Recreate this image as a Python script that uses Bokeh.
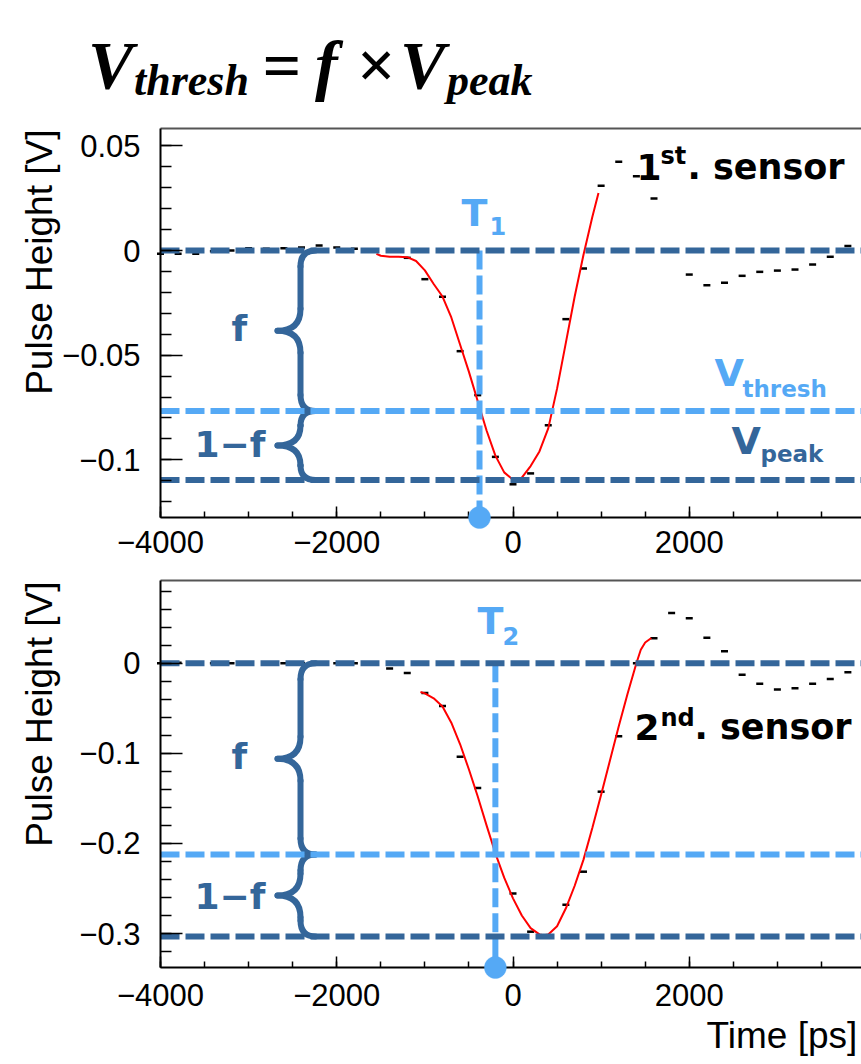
import math
from bokeh.plotting import figure
from bokeh.layouts import column
from bokeh.models import (Range1d, Label, FixedTicker, CustomJSTickFormatter,
                          PolyAnnotation, Div)
from bokeh.embed import file_html
from bokeh.resources import INLINE

# ---------------- data ----------------
s1_time = [-4000, -3800, -3600, -3400, -3200, -3000, -2800, -2600, -2400, -2200, -2000,
           -1800, -1600, -1400, -1200, -1000, -800, -600, -400, -200, 0, 200, 400, 600,
           800, 1000, 1200, 1400, 1600, 1800, 2000, 2200, 2400, 2600, 2800, 3000, 3200,
           3400, 3600, 3800]
s1_volt = [-0.0016, -0.0015, -0.0016, -0.0003, 0.0, 0.0011, 0.0008, 0.0011, 0.0014, 0.0024,
           0.0014, 0.0008, 0.0, -0.0006, -0.0035, -0.0137, -0.0221, -0.0481, -0.0691,
           -0.0986, -0.1117, -0.1065, -0.0835, -0.0328, -0.0086, 0.0309, 0.0424, 0.0355,
           0.0248, 0.0, -0.0115, -0.0166, -0.0154, -0.0121, -0.0102, -0.0096, -0.0091,
           -0.0067, -0.0030, 0.0022]
fit1_time = [-1550, -1500, -1400, -1300, -1200, -1100, -1000, -900, -800, -700, -600, -500,
             -400, -300, -200, -100, 0, 50, 100, 200, 300, 400, 500, 600, 700, 800, 900, 970]
fit1_volt = [-0.0016, -0.0025, -0.0030, -0.0030, -0.0032, -0.0050, -0.0095, -0.0160, -0.0220,
             -0.0320, -0.0450, -0.0580, -0.0720, -0.0860, -0.0980, -0.1060, -0.1095, -0.1097,
             -0.1085, -0.1030, -0.0960, -0.0850, -0.0660, -0.0440, -0.0220, -0.0020, 0.0160,
             0.0275]

s2_time = [-4000, -3800, -3600, -3400, -3200, -3000, -2800, -2600, -2400, -2200, -2000,
           -1800, -1600, -1400, -1200, -1000, -800, -600, -400, -200, 0, 200, 400, 600,
           800, 1000, 1200, 1400, 1600, 1800, 2000, 2200, 2400, 2600, 2800, 3000, 3200,
           3400, 3600, 3800]
s2_volt = [0.0, 0.0005, 0.0, 0.0, 0.0, 0.0005, 0.0, 0.0, 0.0, 0.0, 0.0, 0.0, -0.001, -0.0058,
           -0.011, -0.033, -0.0476, -0.1037, -0.1385, -0.212, -0.2556, -0.298, -0.303,
           -0.2681, -0.2314, -0.1426, -0.081, 0.0, 0.0278, 0.0556, 0.050, 0.0282, 0.0133,
           -0.0129, -0.0229, -0.0292, -0.0278, -0.0229, -0.0174, -0.010]
fit2_time = [-1050, -1000, -900, -800, -700, -600, -500, -400, -300, -200, -100, 0, 100, 200,
             300, 350, 400, 500, 600, 700, 800, 900, 1000, 1100, 1200, 1300, 1400, 1450, 1500,
             1570]
fit2_volt = [-0.032, -0.0335, -0.039, -0.048, -0.066, -0.090, -0.118, -0.148, -0.180, -0.211,
             -0.238, -0.261, -0.280, -0.294, -0.301, -0.302, -0.301, -0.292, -0.272, -0.247,
             -0.218, -0.183, -0.146, -0.108, -0.070, -0.034, 0.000, 0.015, 0.023, 0.028]

frac = 0.7
baseline1 = 0.0
vpeak1 = -0.1096
baseline2 = 0.0
vpeak2 = -0.3033
t_cross1 = -380
t_cross2 = -200

x_major = [-4000, -2000, 0, 2000, 4000]
x_minor = [-4000 + 500 * k for k in range(17)]
y1_major = [-0.1, -0.05, 0.0, 0.05]
y1_minor = [round(-0.12 + 0.01 * k, 2) for k in range(18)]
y2_major = [-0.3, -0.2, -0.1, 0.0]
y2_minor = [round(-0.32 + 0.02 * k, 2) for k in range(21)]

# ---------------- style / geometry ----------------
DARK = "#34669A"
LIGHT = "#55A9F5"
SANS = "Liberation Sans"
BOLD = "DejaVu Sans"
W = 861
XS = 0.088125          # px per ps
X_ZERO_PX = 512.5      # page x of t = 0
X_LEFT = -4000         # first x tick (y axis position)
BASE_FIX = 0.38        # empirical baseline correction (em)


class Geo:
    """page-pixel <-> data conversion for a panel whose frame fills the figure"""

    def __init__(self, page_top, height, zero_py, yscale):
        self.top, self.h, self.zero, self.ys = page_top, height, zero_py, yscale

    def x(self, px):
        return (px - X_ZERO_PX) / XS

    def y(self, py):
        return (self.zero - py) / self.ys

    def px(self, v):
        return X_ZERO_PX + v * XS

    def py(self, v):
        return self.zero - v * self.ys

    def xr(self):
        return Range1d(self.x(0), self.x(W))

    def yr(self):
        return Range1d(self.y(self.top + self.h), self.y(self.top))


fmt = CustomJSTickFormatter(code="return tick < 0 ? '\u2212' + Math.abs(tick) : '' + tick;")


def lab(p, geo, text, px, py, size, color="black", font=BOLD, style="bold",
        align="left", baseline="alphabetic", angle=0.0):
    if baseline == "alphabetic":
        py = py - BASE_FIX * size
    p.add_layout(Label(x=geo.x(px), y=geo.y(py), text=text, text_font=font,
                       text_font_style=style, text_font_size=f"{size}px", text_color=color,
                       text_align=align, text_baseline=baseline, angle=angle))


def make_panel(geo, frame_top_py, axis_py, ymaj, ymin, xstand):
    v_axis = geo.y(axis_py)
    v_top = geo.y(frame_top_py)
    x_end = geo.x(W)
    p = figure(width=W, height=geo.h, x_range=geo.xr(), y_range=geo.yr(),
               output_backend="svg", toolbar_location=None,
               min_border=0, min_border_left=0, min_border_right=0, min_border_top=0,
               min_border_bottom=0)
    p.outline_line_color = None
    p.grid.visible = False
    p.background_fill_color = "white"
    p.border_fill_color = "white"
    for ax in (p.xaxis[0], p.yaxis[0]):
        ax.axis_line_color = "black"
        ax.axis_line_width = 2
        ax.major_tick_line_color = "black"
        ax.major_tick_line_width = 1.5
        ax.minor_tick_line_color = "black"
        ax.minor_tick_line_width = 1.5
        ax.major_tick_out = 0
        ax.minor_tick_out = 0
        ax.major_label_text_font = SANS
        ax.major_label_text_font_size = "31px"
        ax.major_label_text_color = "black"
        ax.formatter = fmt
    p.xaxis.ticker = FixedTicker(ticks=x_major, minor_ticks=x_minor)
    p.yaxis.ticker = FixedTicker(ticks=ymaj, minor_ticks=ymin)
    p.xaxis.fixed_location = v_axis
    p.xaxis.bounds = (X_LEFT, x_end)
    p.yaxis.fixed_location = X_LEFT
    p.yaxis.bounds = (v_axis, v_top)
    p.xaxis.major_tick_in = 11
    p.xaxis.minor_tick_in = 6
    p.yaxis.major_tick_in = 22
    p.yaxis.minor_tick_in = 11
    p.xaxis.major_label_standoff = xstand
    p.yaxis.major_label_standoff = 20
    # top frame border
    p.segment(x0=[X_LEFT], y0=[v_top], x1=[x_end], y1=[v_top], line_color="#555555",
              line_width=2)
    # y axis title
    lab(p, geo, "Pulse Height [V]", 39, frame_top_py + 1, 37, font=SANS, style="normal",
        align="right", baseline="middle", angle=math.pi / 2)
    return p, v_axis, x_end


def brace(p, geo, vtop, vbot):
    ptop, pbot = geo.py(vtop), geo.py(vbot)
    xe, xs, xt = 315, 300, 277
    half = (pbot - ptop) / 2
    ym = ptop + half
    h, t = 16.0, 22.0
    if h + t > half:
        s = half / (h + t)
        h, t = h * s, t * s
    q = dict(x0=[], y0=[], x1=[], y1=[], cx=[], cy=[])
    for (a, b, c) in [((xe, ptop), (xs, ptop + h), (xs, ptop)),
                      ((xs, ym - t), (xt, ym), (xs, ym)),
                      ((xt, ym), (xs, ym + t), (xs, ym)),
                      ((xs, pbot - h), (xe, pbot), (xs, pbot))]:
        q["x0"].append(geo.x(a[0])); q["y0"].append(geo.y(a[1]))
        q["x1"].append(geo.x(b[0])); q["y1"].append(geo.y(b[1]))
        q["cx"].append(geo.x(c[0])); q["cy"].append(geo.y(c[1]))
    p.quadratic(**q, line_color=DARK, line_width=6, line_cap="round")
    p.segment(x0=[geo.x(xs), geo.x(xs)], y0=[geo.y(ptop + h), geo.y(ym + t)],
              x1=[geo.x(xs), geo.x(xs)], y1=[geo.y(ym - t), geo.y(pbot - h)],
              line_color=DARK, line_width=6, line_cap="round")


def panel_content(p, geo, times, volts, ftime, fvolt, base, vpeak, tcross, v_axis, x_end):
    vth = frac * vpeak
    p.scatter(times, volts, marker="dash", size=7, line_color="black", line_width=2.5)
    p.line(ftime, fvolt, line_color="red", line_width=2)
    brace(p, geo, base, vth)
    brace(p, geo, vth, vpeak)
    p.segment(x0=[tcross], y0=[base], x1=[tcross], y1=[v_axis], line_color=LIGHT,
              line_width=6, line_dash="19 6")
    levels = [base, vth, vpeak]
    colors = [DARK, LIGHT, DARK]
    p.segment(x0=[X_LEFT] * 3, y0=levels, x1=[x_end] * 3, y1=levels, line_color=colors,
              line_width=6, line_dash="19 6")
    cx, cy = geo.px(tcross), geo.py(v_axis)
    r = 11
    xs = [geo.x(cx + r * math.cos(2 * math.pi * k / 48)) for k in range(48)]
    ys = [geo.y(cy + r * math.sin(2 * math.pi * k / 48)) for k in range(48)]
    p.add_layout(PolyAnnotation(xs=xs, ys=ys, fill_color=LIGHT, fill_alpha=1.0,
                                line_color=LIGHT, line_width=1))


# ---------------- title (HTML text) ----------------
def tspan(text, left, base, size):
    top = base - 0.8375 * size
    return (f'<span style="position:absolute;left:{left}px;top:{top:.1f}px;'
            f'font-family:\'Liberation Serif\';font-style:italic;font-weight:bold;'
            f'font-size:{size}px;line-height:1;white-space:nowrap;color:black;">{text}</span>')


title_html = ('<div style="position:relative;width:861px;height:120px;margin:0;padding:0;">'
              + tspan("V", 88, 88, 68)
              + tspan("thresh", 134, 96, 44)
              + tspan("=", 262, 88, 68)
              + tspan("f", 315, 88, 68)
              + tspan("\u00d7", 356, 88, 68)
              + tspan("V", 400, 88, 68)
              + tspan("peak", 447, 96, 44)
              + '</div>')
title = Div(text=title_html, width=W, height=120, margin=0)

# ---------------- top panel ----------------
g1 = Geo(120, 452, 250.0, 2093.0)
p1, va1, xe1 = make_panel(g1, 128, 517, y1_major, y1_minor, 13)
panel_content(p1, g1, s1_time, s1_volt, fit1_time, fit1_volt, baseline1, vpeak1, t_cross1,
              va1, xe1)
lab(p1, g1, "T", 461, 227, 38, LIGHT)
lab(p1, g1, "1", 489, 235, 24, LIGHT)
lab(p1, g1, "f", 231, 342, 36, DARK)
lab(p1, g1, "1\u2212f", 194, 458, 36, DARK)
lab(p1, g1, "V", 714, 387, 38, LIGHT)
lab(p1, g1, "thresh", 742, 397, 23, LIGHT)
lab(p1, g1, "V", 731, 455, 38, DARK)
lab(p1, g1, "peak", 760, 462, 23, DARK)
lab(p1, g1, "1", 636, 180, 36)
lab(p1, g1, "st", 660, 165, 24)
lab(p1, g1, ". sensor", 687, 180, 35)

# ---------------- bottom panel ----------------
g2 = Geo(572, 490, 662.7, 901.0)
p2, va2, xe2 = make_panel(g2, 580, 967, y2_major, y2_minor, 16)
panel_content(p2, g2, s2_time, s2_volt, fit2_time, fit2_volt, baseline2, vpeak2, t_cross2,
              va2, xe2)
lab(p2, g2, "T", 477, 635, 38, LIGHT)
lab(p2, g2, "2", 502, 645, 24, LIGHT)
lab(p2, g2, "f", 231, 770, 36, DARK)
lab(p2, g2, "1\u2212f", 194, 910, 36, DARK)
lab(p2, g2, "2", 634, 740, 36)
lab(p2, g2, "nd", 660, 727, 24)
lab(p2, g2, ". sensor", 694, 740, 35)
lab(p2, g2, "Time [ps]", 706, 1049, 37, font=SANS, style="normal")

layout = column(title, p1, p2, spacing=0)
open("out.html", "w").write(file_html(layout, INLINE))
